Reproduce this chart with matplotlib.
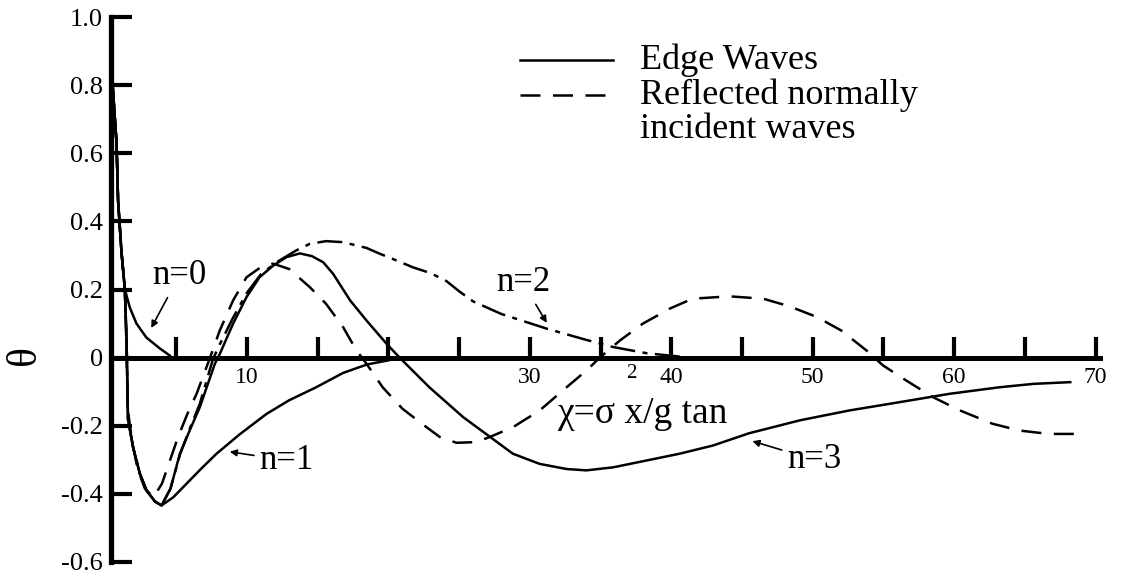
import matplotlib.pyplot as plt

# Edge wave n=0
n0_x = [0.42, 0.53, 0.79, 0.9, 1.14, 1.38, 1.73, 2.2, 2.9, 3.85, 4.56]
n0_y = [0.98, 0.79, 0.63, 0.46, 0.31, 0.2, 0.147, 0.10, 0.059, 0.027, 0.006]

# Edge wave n=1
n1_x = [0.42, 0.53, 0.79, 0.9, 1.14, 1.38, 1.5, 1.6, 1.96, 2.44, 2.91, 3.5,
        3.97, 4.8, 5.74, 6.8, 7.86, 9.5, 11.4, 13.0, 14.9, 16.8, 18.5, 20.0]
n1_y = [0.98, 0.79, 0.63, 0.46, 0.31, 0.2, 0.05, -0.18, -0.263, -0.341,
        -0.39, -0.422, -0.434, -0.41, -0.37, -0.325, -0.282, -0.225, -0.165,
        -0.125, -0.087, -0.045, -0.02, -0.008]

# Edge wave n=2
n2_x = [0.42, 0.53, 0.79, 0.9, 1.14, 1.38, 1.5, 1.6, 1.96, 2.44, 2.91, 3.5,
        3.97, 4.6, 5.27, 6.0, 6.68, 7.6, 8.1, 9.0, 10.0, 11.0, 12.1, 13.5,
        14.45, 15.6, 16.8, 18.46, 19.4, 20.3, 21.75, 23.0, 24.1, 25.0, 26.0,
        28.0, 31.2, 34.0, 35.9, 38.25, 40.6]
n2_y = [0.98, 0.79, 0.63, 0.46, 0.31, 0.2, 0.05, -0.18, -0.263, -0.341,
        -0.39, -0.422, -0.434, -0.385, -0.285, -0.205, -0.135, -0.005, 0.04,
        0.115, 0.19, 0.245, 0.28, 0.315, 0.334, 0.342, 0.339, 0.322, 0.305,
        0.29, 0.265, 0.248, 0.225, 0.195, 0.165, 0.128, 0.085, 0.052, 0.031,
        0.013, 0.003]

# Edge wave n=3
n3_x = [0.42, 0.53, 0.79, 0.9, 1.14, 1.38, 1.5, 1.6, 1.96, 2.44, 2.91, 3.5,
        3.97, 4.6, 5.27, 6.0, 6.68, 7.74, 8.09, 9.03, 9.98, 10.9, 11.86, 12.8,
        13.75, 14.6, 15.4, 16.1, 17.3, 18.46, 19.87, 20.8, 22.9, 25.3, 27.2,
        28.8, 30.7, 32.6, 34.0, 35.9, 38.25, 40.6, 42.95, 45.5, 49.1, 52.6,
        56.1, 59.7, 63.2, 65.6, 68.2]
n3_y = [0.98, 0.79, 0.63, 0.46, 0.31, 0.2, 0.05, -0.18, -0.263, -0.341,
        -0.39, -0.422, -0.434, -0.385, -0.282, -0.21, -0.145, -0.018, 0.011,
        0.1, 0.178, 0.236, 0.27, 0.295, 0.306, 0.298, 0.28, 0.246, 0.168,
        0.109, 0.041, 0.0, -0.087, -0.175, -0.233, -0.282, -0.312, -0.327,
        -0.331, -0.322, -0.302, -0.282, -0.258, -0.222, -0.184, -0.155,
        -0.131, -0.106, -0.087, -0.077, -0.072]

# Reflected normally incident waves
ref_x = [0.42, 0.53, 0.79, 0.9, 1.14, 1.38, 1.48, 1.58, 1.9, 2.3, 2.8, 3.4,
         4.0, 4.5, 5.14, 5.8, 6.45, 7.4, 8.09, 9.03, 9.98, 11.0, 11.86, 13.0,
         14.45, 15.6, 16.8, 17.75, 18.46, 19.6, 21.0, 22.4, 23.64, 24.82,
         26.23, 27.17, 28.82, 30.7, 32.6, 34.0, 34.95, 36.36, 38.0, 39.9,
         41.5, 44.1, 46.5, 48.4, 50.3, 52.0, 53.8, 54.97, 56.6, 58.5, 60.4,
         62.7, 64.6, 66.7, 68.6]
ref_y = [0.98, 0.79, 0.63, 0.46, 0.31, 0.2, 0.05, -0.15, -0.25, -0.33,
         -0.385, -0.41, -0.37, -0.31, -0.233, -0.165, -0.106, 0.0, 0.08,
         0.168, 0.236, 0.266, 0.276, 0.26, 0.207, 0.158, 0.09, 0.021, -0.018,
         -0.087, -0.15, -0.195, -0.233, -0.25, -0.248, -0.233, -0.204, -0.155,
         -0.087, -0.038, 0.0, 0.05, 0.1, 0.144, 0.173, 0.18, 0.173, 0.15,
         0.119, 0.08, 0.021, -0.023, -0.067, -0.116, -0.155, -0.194, -0.214,
         -0.224, -0.224]

x_ticks = [5, 10, 15, 20, 25, 30, 35, 40, 45, 50, 55, 60, 65, 70]
x_tick_labels = ["", "10", "", "", "", "30", "", "40", "", "50", "", "60",
                 "", "70"]
y_ticks = [1.0, 0.8, 0.6, 0.4, 0.2, 0, -0.2, -0.4, -0.6]
y_tick_labels = ["1.0", "0.8", "0.6", "0.4", "0.2", "0", "-0.2", "-0.4",
                 "-0.6"]


def main():
    plt.rcParams['font.family'] = ['Liberation Serif', 'DejaVu Serif']
    fig = plt.figure(figsize=(11.27, 5.77), dpi=100)
    ax = fig.add_axes([0.0985, 0.026, 0.8775, 0.9445])
    ax.set_xlim(0.4, 70.3)
    ax.set_ylim(-0.6, 1.0)

    # Curves
    lw = 1.8
    ax.plot(n0_x, n0_y, color="black", lw=lw)
    ax.plot(n1_x, n1_y, color="black", lw=lw)
    ax.plot(n2_x, n2_y, color="black", lw=lw, linestyle=(0, (10, 3, 2, 3)))
    ax.plot(n3_x, n3_y, color="black", lw=lw)
    ax.plot(ref_x, ref_y, color="black", lw=lw, linestyle=(0, (8, 5)))

    # Axes styling
    ax.spines["top"].set_visible(False)
    ax.spines["right"].set_visible(False)
    ax.spines["bottom"].set_position(("data", 0))
    ax.spines["bottom"].set_linewidth(3.6)
    ax.spines["left"].set_linewidth(3.8)
    ax.set_xticks(x_ticks)
    ax.set_xticklabels(x_tick_labels)
    ax.set_yticks(y_ticks)
    ax.set_yticklabels(y_tick_labels)
    ax.tick_params(axis="x", direction="in", length=15, width=3, pad=7,
                   labelsize=17)
    ax.tick_params(axis="y", direction="in", length=15, width=3, pad=6,
                   labelsize=19)

    # Annotations
    arrow = dict(arrowstyle="-|>", color="black", lw=1.2, mutation_scale=10)
    ax.annotate("n=0", xy=(3.15, 0.08), xytext=(3.3, 0.24), fontsize=25,
                ha="left", va="center", arrowprops=arrow)
    ax.annotate("n=1", xy=(8.6, -0.275), xytext=(10.9, -0.302), fontsize=25,
                ha="left", va="center", arrowprops=arrow)
    ax.annotate("n=2", xy=(31.3, 0.095), xytext=(27.6, 0.22), fontsize=25,
                ha="left", va="center", arrowprops=arrow)
    ax.annotate("n=3", xy=(45.55, -0.243), xytext=(48.2, -0.30), fontsize=25,
                ha="left", va="center", arrowprops=arrow)
    ax.text(31.9, -0.165, "χ=σ x/g tan", fontsize=27, ha="left", va="center")
    ax.text(37.2, -0.047, "2", fontsize=15, ha="center", va="center")
    fig.text(25 / 1127, 1 - 355 / 577, "θ", rotation=90, fontsize=30,
             ha="center", va="center")

    # Legend drawn by hand
    ax.plot([0.4136, 0.5076], [0.921, 0.921], transform=ax.transAxes,
            color="black", lw=lw)
    ax.plot([0.4136, 0.5076], [0.857, 0.857], transform=ax.transAxes,
            color="black", lw=lw, linestyle=(0, (8, 5)))
    ax.text(0.535, 0.905, "Edge Waves", transform=ax.transAxes,
            fontsize=26, va="baseline")
    ax.text(0.535, 0.840, "Reflected normally", transform=ax.transAxes,
            fontsize=26, va="baseline")
    ax.text(0.535, 0.778, "incident waves", transform=ax.transAxes,
            fontsize=26, va="baseline")

    fig.savefig("out.png", dpi=100)


if __name__ == "__main__":
    main()
